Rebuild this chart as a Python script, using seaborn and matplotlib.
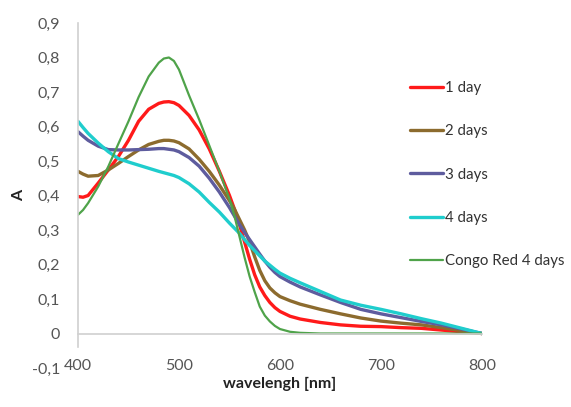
import numpy as np
import pandas as pd
import matplotlib
matplotlib.use("Agg")
import matplotlib.pyplot as plt
import seaborn as sns

wavelength = [400, 405, 410, 420, 430, 440, 450, 460, 470, 480, 485, 490, 495, 500, 510,
              520, 530, 540, 550, 555, 560, 565, 570, 575, 580, 585, 590, 595, 600, 610,
              620, 640, 660, 680, 700, 720, 740, 760, 780, 800]
day1 = [0.397, 0.395, 0.400, 0.436, 0.474, 0.513, 0.560, 0.615, 0.650, 0.667, 0.671, 0.672,
        0.669, 0.661, 0.632, 0.590, 0.535, 0.470, 0.400, 0.360, 0.315, 0.265, 0.215, 0.170,
        0.135, 0.110, 0.090, 0.075, 0.064, 0.050, 0.042, 0.032, 0.025, 0.021, 0.020, 0.017,
        0.015, 0.010, 0.005, 0.0]
day2 = [0.470, 0.462, 0.456, 0.458, 0.474, 0.493, 0.513, 0.532, 0.548, 0.557, 0.560, 0.560,
        0.558, 0.553, 0.535, 0.505, 0.470, 0.430, 0.385, 0.360, 0.330, 0.300, 0.265, 0.222,
        0.183, 0.153, 0.132, 0.118, 0.107, 0.095, 0.085, 0.070, 0.057, 0.045, 0.036, 0.030,
        0.025, 0.017, 0.008, 0.0]
day3 = [0.585, 0.572, 0.560, 0.543, 0.533, 0.532, 0.532, 0.533, 0.534, 0.536, 0.536, 0.534,
        0.532, 0.527, 0.510, 0.485, 0.450, 0.410, 0.365, 0.340, 0.315, 0.293, 0.272, 0.251,
        0.230, 0.210, 0.192, 0.177, 0.165, 0.149, 0.135, 0.112, 0.090, 0.070, 0.057, 0.046,
        0.035, 0.025, 0.013, 0.0]
day4 = [0.615, 0.597, 0.580, 0.552, 0.527, 0.507, 0.497, 0.488, 0.479, 0.470, 0.466, 0.462,
        0.458, 0.452, 0.434, 0.410, 0.380, 0.352, 0.320, 0.305, 0.290, 0.272, 0.255, 0.240,
        0.225, 0.210, 0.198, 0.186, 0.175, 0.160, 0.147, 0.122, 0.097, 0.082, 0.070, 0.057,
        0.043, 0.030, 0.015, 0.0]
congo = [0.344, 0.358, 0.378, 0.426, 0.484, 0.550, 0.615, 0.685, 0.745, 0.785, 0.797, 0.800,
         0.790, 0.765, 0.690, 0.620, 0.545, 0.470, 0.390, 0.340, 0.280, 0.220, 0.165, 0.120,
         0.078, 0.052, 0.035, 0.022, 0.013, 0.005, 0.002, 0.0, 0.0, 0.0, 0.0, 0.0,
         0.0, 0.0, 0.0, 0.0]

series_names = ["1 day", "2 days", "3 days", "4 days", "Congo Red 4 days"]
series_values = [day1, day2, day3, day4, congo]
colors = ["#FF1A1A", "#8C6B2E", "#5E5C9E", "#1FCDCD", "#4FA34A"]
widths = [2.4, 2.4, 2.4, 2.4, 1.6]

y_ticks = [-0.1, 0.0, 0.1, 0.2, 0.3, 0.4, 0.5, 0.6, 0.7, 0.8, 0.9]
y_labels = ["-0,1", "0", "0,1", "0,2", "0,3", "0,4", "0,5", "0,6", "0,7", "0,8", "0,9"]
x_ticks = [400, 500, 600, 700, 800]
x_labels = ["400", "500", "600", "700", "800"]

df = pd.DataFrame({
    "wavelength": np.tile(wavelength, len(series_names)),
    "A": np.concatenate(series_values),
    "series": np.repeat(series_names, len(wavelength)),
})

sns.set_style("white")
plt.rcParams["font.family"] = ["Lato", "DejaVu Sans"]

fig = plt.figure(figsize=(5.71, 4.07), dpi=100)
ax = fig.add_axes([0.1366, 0.0958, 0.8440 - 0.1366, 0.9435 - 0.0958])

sns.lineplot(data=df, x="wavelength", y="A", hue="series", hue_order=series_names,
             palette=dict(zip(series_names, colors)), ax=ax, legend=True)
for line, lw in zip(ax.get_lines(), widths):
    line.set_linewidth(lw)
    line.set_solid_capstyle("round")
    line.set_solid_joinstyle("round")

ax.set_xlim(400, 800)
ax.set_ylim(-0.1, 0.9)
ax.set_yticks(y_ticks)
ax.set_yticklabels(y_labels)
ax.set_xticks(x_ticks)
ax.set_xticklabels(x_labels)

for s in ["top", "right"]:
    ax.spines[s].set_visible(False)
ax.spines["bottom"].set_position(("data", 0))
ax.spines["bottom"].set_color("#d0d0d0")
ax.spines["bottom"].set_linewidth(1.2)
ax.spines["left"].set_color("#d0d0d0")
ax.spines["left"].set_linewidth(1.2)
ax.spines["left"].set_bounds(-0.04, 0.9)

ax.tick_params(axis="y", length=0, pad=13, labelsize=11.5, labelcolor="#555555")
ax.tick_params(axis="x", length=0, pad=18, labelsize=11.5, labelcolor="#555555")

ax.set_xlabel("wavelengh [nm]", fontsize=11.5, fontweight="bold", color="#222222")
ax.xaxis.set_label_coords(0.5, -0.025)
ax.set_ylabel("A", fontsize=11.5, fontweight="bold", color="#222222")
ax.yaxis.set_label_coords(-0.128, 0.5)

handles, labels = ax.get_legend_handles_labels()
for h, lw in zip(handles, widths):
    h.set_linewidth(lw)
leg = ax.legend(handles, labels, loc="upper left", bbox_to_anchor=(0.808, 0.849),
                frameon=False, fontsize=10.8, handlelength=2.2, handletextpad=0.1,
                labelspacing=1.95, borderaxespad=0)
for t in leg.get_texts():
    t.set_color("#333333")
fig.savefig("out.png", dpi=100)
